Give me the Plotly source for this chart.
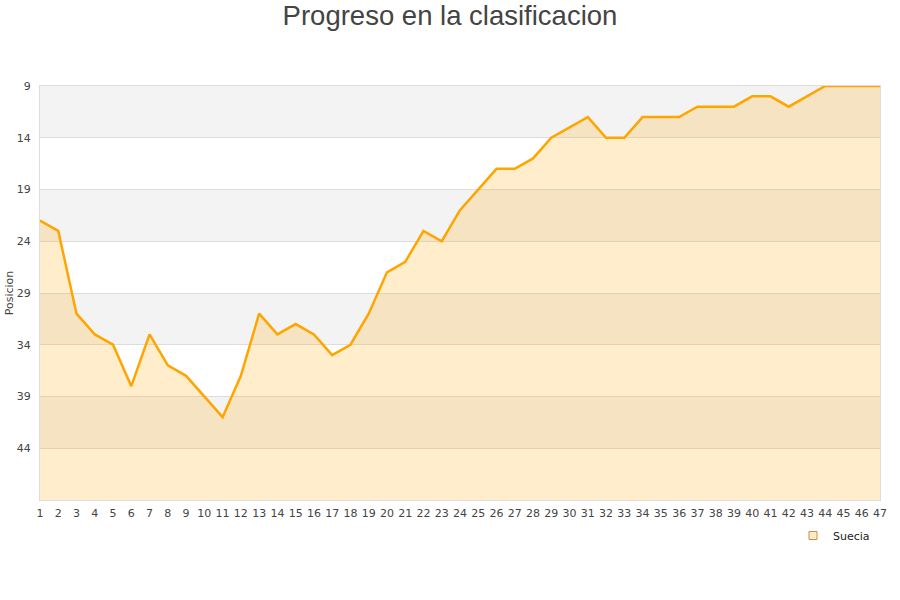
import plotly.graph_objects as go

jornadas = list(range(1, 48))
posicion = [22, 23, 31, 33, 34, 38, 33, 36, 37, 39, 41, 37, 31, 33, 32, 33, 35, 34, 31, 27,
            26, 23, 24, 21, 19, 17, 17, 16, 14, 13, 12, 14, 14, 12, 12, 12, 11, 11, 11, 10,
            10, 11, 10, 9, 9, 9, 9]
y_ticks = [9, 14, 19, 24, 29, 34, 39, 44]
y_min, y_max = 9, 49
equipo = "Suecia"

fig = go.Figure()
fig.add_trace(go.Scatter(x=jornadas, y=[y_max] * len(jornadas), mode="lines",
                         line=dict(width=0), showlegend=False, hoverinfo="skip"))
fig.add_trace(go.Scatter(x=jornadas, y=posicion, mode="lines", name=equipo,
                         line=dict(color="#FFA500", width=2.5), showlegend=False,
                         fill="tonexty", fillcolor="rgba(255,165,0,0.2)"))
# legend entry (square swatch)
fig.add_trace(go.Scatter(x=[None], y=[None], mode="markers", name=equipo,
                         marker=dict(symbol="square", size=8, color="rgba(255,235,200,1)",
                                     line=dict(color="#c8903a", width=1))))

for i in range(0, len(y_ticks), 2):
    fig.add_shape(type="rect", xref="paper", yref="y", x0=0, x1=1,
                  y0=y_ticks[i], y1=y_ticks[i] + 5, fillcolor="#f3f3f3",
                  line=dict(width=0), layer="below")

fig.update_layout(
    width=900, height=600,
    paper_bgcolor="white", plot_bgcolor="white",
    margin=dict(l=40, r=20, t=86, b=100, autoexpand=False),
    title=dict(text="Progreso en la clasificacion", x=0.5, xanchor="center",
               y=1 - 15 / 600, yanchor="middle",
               font=dict(family="Liberation Sans", size=27.5, color="#444444")),
    font=dict(family="DejaVu Sans", size=11, color="#444444"),
    legend=dict(x=(793 - 40) / 840, xanchor="left", y=-21 / 414, yanchor="top",
                bgcolor="rgba(0,0,0,0)", itemwidth=30,
                font=dict(size=11, color="#222222")),
    xaxis=dict(range=[1, 47], tickmode="array", tickvals=jornadas, automargin=False,
               showgrid=False, zeroline=False, showline=True, linecolor="#dddddd",
               mirror=True, ticks="", ticklabelstandoff=3,
               tickfont=dict(size=11, color="#444444")),
    yaxis=dict(range=[y_max, y_min], tickmode="array", tickvals=y_ticks, automargin=False,
               showgrid=True, gridcolor="#dddddd", zeroline=False,
               showline=True, linecolor="#dddddd", mirror=True, ticks="",
               ticklabelstandoff=6,
               title=dict(text="Posicion", font=dict(size=11, color="#444444"), standoff=0),
               tickfont=dict(size=11, color="#444444")),
)

fig.write_html("out.html", config={"displayModeBar": False},
               post_script="document.body.style.margin='0';")
